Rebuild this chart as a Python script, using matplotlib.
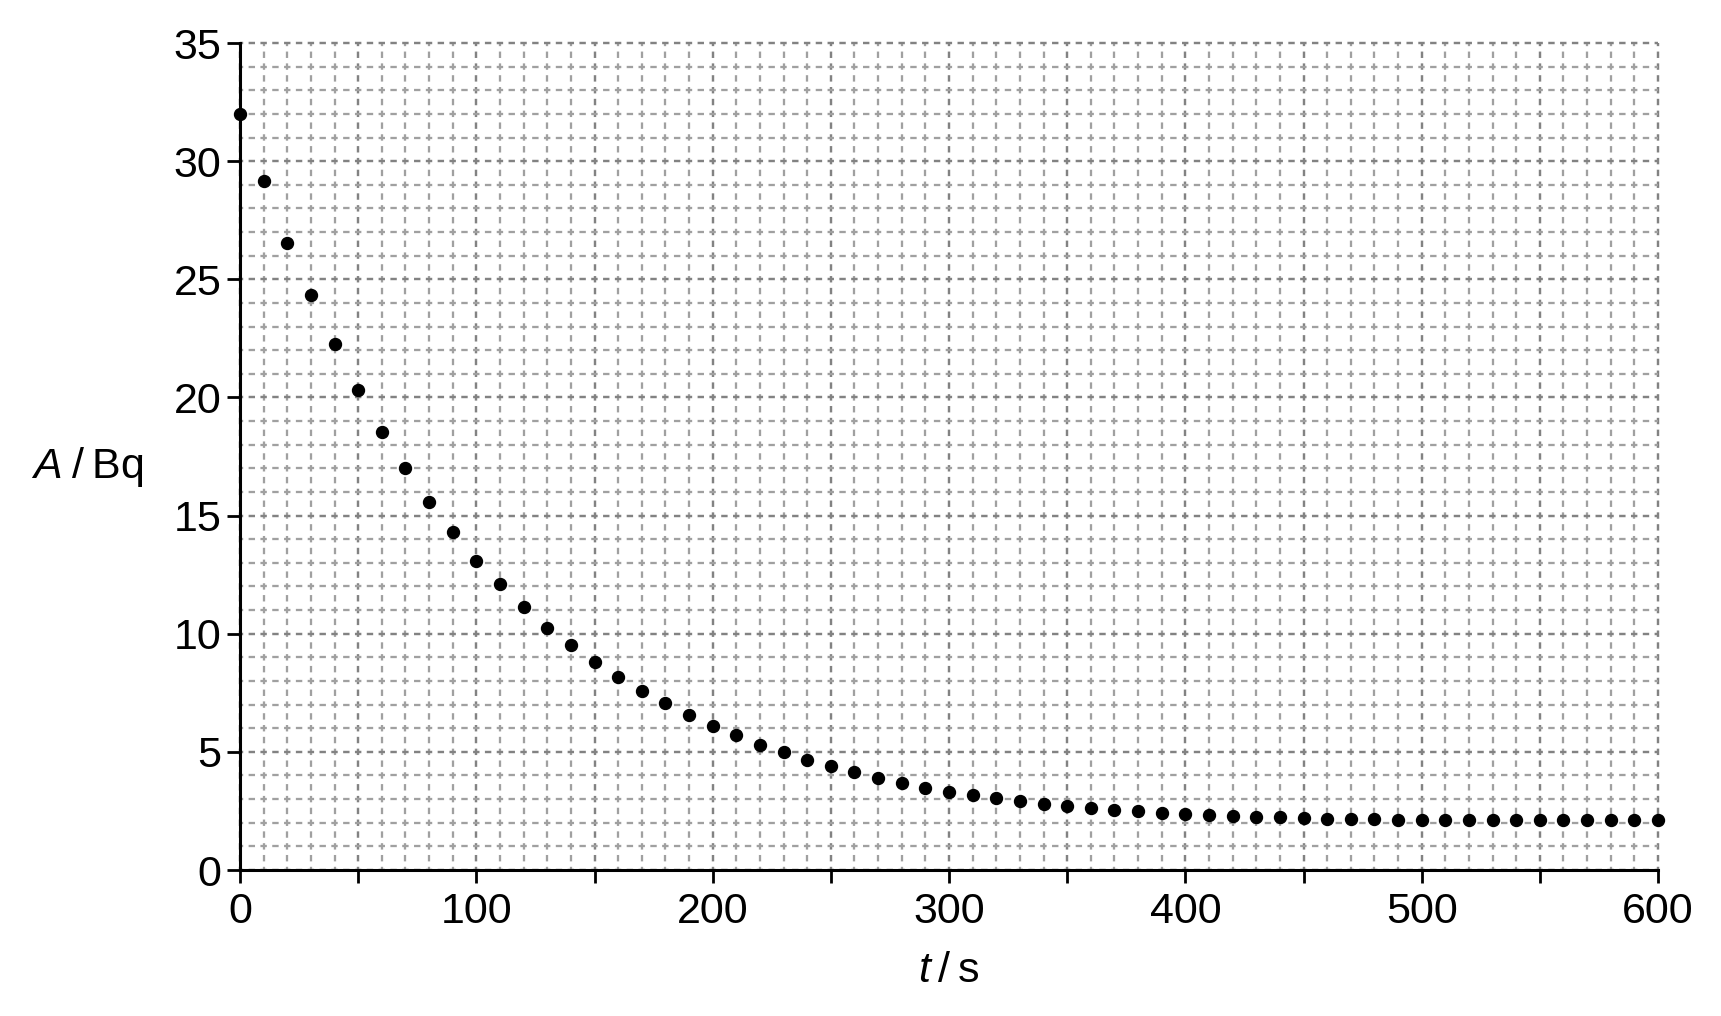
import matplotlib
matplotlib.use("Agg")
import matplotlib.pyplot as plt
from matplotlib.ticker import MultipleLocator, FuncFormatter

# ---- data ----
t_values = list(range(0, 601, 10))
activity = [
    32.0, 29.15, 26.55, 24.32, 22.28, 20.31, 18.53, 17.0, 15.59, 14.3,
    13.09, 12.09, 11.13, 10.24, 9.51, 8.81, 8.18, 7.59, 7.07, 6.55,
    6.11, 5.71, 5.31, 4.98, 4.67, 4.40, 4.13, 3.90, 3.70, 3.48,
    3.32, 3.16, 3.03, 2.91, 2.79, 2.70, 2.62, 2.55, 2.48, 2.41,
    2.36, 2.31, 2.28, 2.26, 2.23, 2.19, 2.17, 2.15, 2.14, 2.13,
    2.12, 2.12, 2.11, 2.11, 2.11, 2.10, 2.10, 2.10, 2.10, 2.10, 2.10,
]
x_label_text = r"$\mathit{t}\:/\:\mathrm{s}$"
y_label_text = r"$\mathit{A}\;/\:\mathrm{Bq}$"

plt.rcParams['font.family'] = ['Liberation Sans', 'DejaVu Sans']
plt.rcParams['mathtext.fontset'] = 'custom'
plt.rcParams['mathtext.rm'] = 'Liberation Sans'
plt.rcParams['mathtext.it'] = 'Liberation Sans:italic'
plt.rcParams['lines.scale_dashes'] = False

DPI = 100
fig = plt.figure(figsize=(17.21, 10.16), dpi=DPI)
ax = fig.add_axes([240/1721, 1 - 870/1016, 1418/1721, 827/1016])

ax.set_xlim(0, 600)
ax.set_ylim(0, 35)

ax.xaxis.set_major_locator(MultipleLocator(50))
ax.xaxis.set_minor_locator(MultipleLocator(10))
ax.yaxis.set_major_locator(MultipleLocator(5))
ax.yaxis.set_minor_locator(MultipleLocator(1))
ax.xaxis.set_major_formatter(FuncFormatter(lambda v, p: f"{int(round(v))}" if round(v) % 100 == 0 else ""))

ax.tick_params(which='major', direction='out', length=9.5, width=2.0, labelsize=31, color='black')
ax.tick_params(axis='x', which='major', pad=6)
ax.tick_params(axis='y', which='major', pad=4)
ax.tick_params(which='minor', length=0)

for s in ['top', 'right']:
    ax.spines[s].set_visible(False)
for s in ['left', 'bottom']:
    ax.spines[s].set_linewidth(2.2)
    ax.spines[s].set_zorder(5)

# dash pattern in points: period = half a grid cell
px = 72.0 / DPI
period = 11.815 * px
on = 6.4 * px
dash = (on / 2, (on, period - on))
ax.grid(which='minor', color='#a0a0a0', linewidth=1.65, linestyle=dash)
ax.grid(which='major', color='#828282', linewidth=1.75, linestyle=dash)
ax.set_axisbelow(True)
for gl in ax.get_xgridlines() + ax.get_ygridlines():
    gl.set_clip_on(False)

ax.plot(t_values, activity, linestyle='none', marker='o', markersize=8.6,
        color='black', zorder=6, clip_on=False)

ax.set_xlabel(x_label_text, fontsize=31, va='center')
ax.xaxis.set_label_coords(0.5, -0.122)
ax.set_ylabel(y_label_text, fontsize=31, rotation=0, ha='center', va='center')
ax.yaxis.set_label_coords(-0.108, 0.487)

fig.savefig("out.png", dpi=DPI)
